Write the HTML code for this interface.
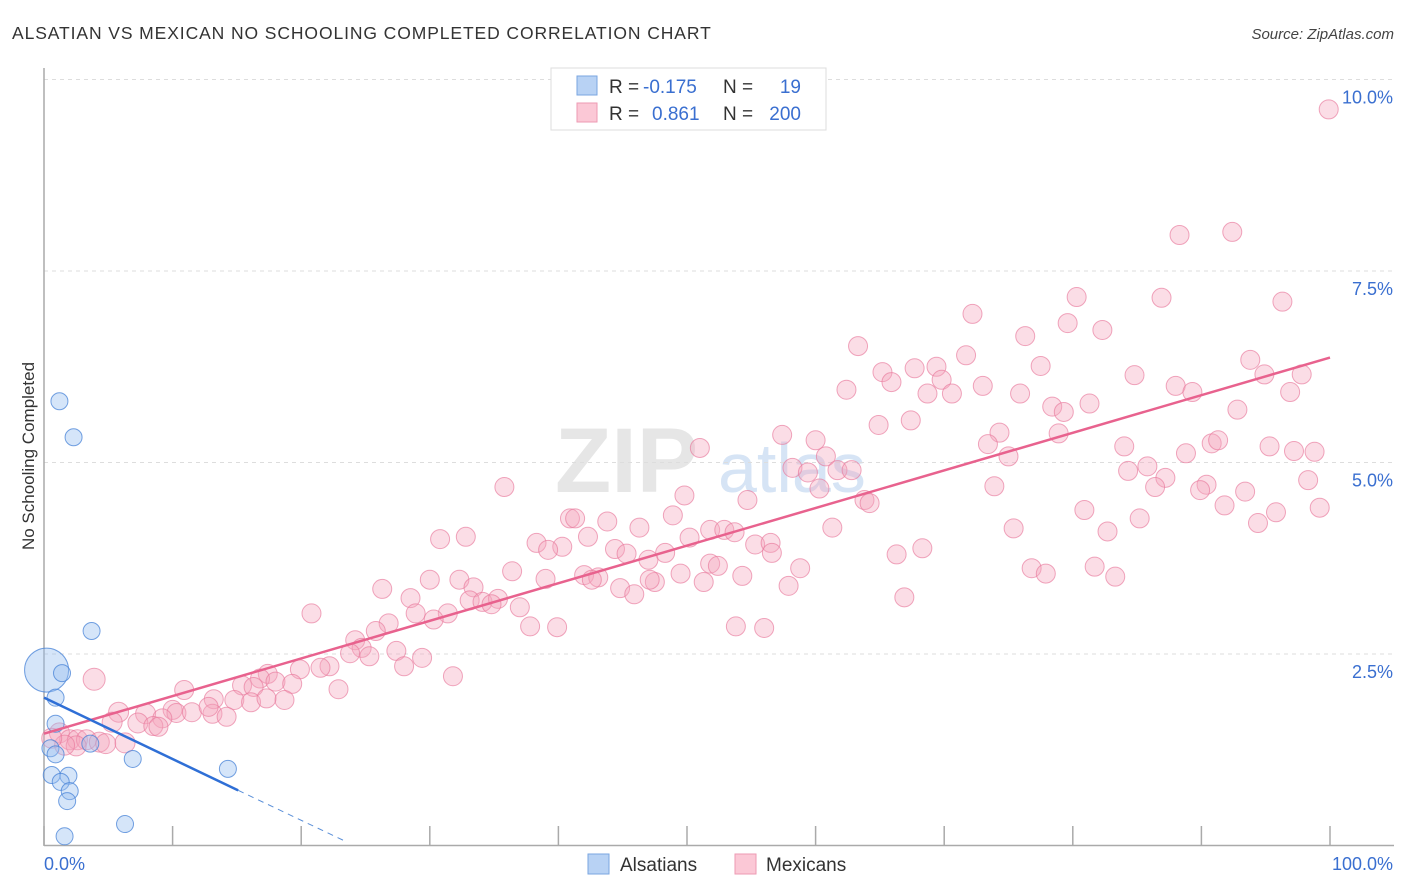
<!DOCTYPE html>
<html><head><meta charset="utf-8"><style>
body{margin:0;background:#fff;font-family:"Liberation Sans",sans-serif;}
#wrap{position:relative;width:1406px;height:892px;overflow:hidden;}
svg text{font-family:"Liberation Sans",sans-serif;}
</style></head><body>
<div id="wrap">
<svg id="chart" width="1406" height="892" xmlns="http://www.w3.org/2000/svg">
<text x="12" y="39" font-size="17.5" fill="#333" letter-spacing="0.9">ALSATIAN VS MEXICAN NO SCHOOLING COMPLETED CORRELATION CHART</text>
<text x="1394" y="39" font-size="15" fill="#444" font-style="italic" text-anchor="end">Source: ZipAtlas.com</text>
<text x="0" y="0" transform="translate(34,456) rotate(-90)" font-size="17" fill="#333" text-anchor="middle">No Schooling Completed</text>
<g><text x="555" y="492" font-size="92" font-family="Liberation Serif" fill="#e6e6e6" font-weight="bold">ZIP</text><text x="718" y="492" font-size="70" fill="#d6e4f5">atlas</text></g>
<g id="grid"></g><g id="axes"></g><g id="marks"></g>
<g>
<rect x="551" y="68" width="275" height="62" fill="#fff" stroke="#ddd"/>
<rect x="577" y="76" width="20" height="19" fill="#b8d2f4" stroke="#7aa6e0"/>
<rect x="577" y="103" width="20" height="19" fill="#fbc8d6" stroke="#ee9ab3"/>
<text x="609" y="93" font-size="19" fill="#333">R =</text><text x="643" y="93" font-size="19" fill="#3a6fd0">-0.175</text>
<text x="723" y="93" font-size="19" fill="#333">N =</text><text x="801" y="93" font-size="19" fill="#3a6fd0" text-anchor="end">19</text>
<text x="609" y="120" font-size="19" fill="#333">R =</text><text x="652" y="120" font-size="19" fill="#3a6fd0">0.861</text>
<text x="723" y="120" font-size="19" fill="#333">N =</text><text x="801" y="120" font-size="19" fill="#3a6fd0" text-anchor="end">200</text>
</g>
<g>
<rect x="588" y="854" width="21" height="20" fill="#b8d2f4" stroke="#7aa6e0"/>
<text x="620" y="871" font-size="19" fill="#333">Alsatians</text>
<rect x="735" y="854" width="21" height="20" fill="#fbc8d6" stroke="#ee9ab3"/>
<text x="766" y="871" font-size="19" fill="#333">Mexicans</text>
</g>
</svg>
</div>
<script>
const yTicks=[2.5,5.0,7.5,10.0];
const yTickLabels=["2.5%","5.0%","7.5%","10.0%"];
const xTickVals=[0,10,20,30,40,50,60,70,80,90,100];
const xEndLabels=["0.0%","100.0%"];
const mexX=[99.9,88.3,92.4,80.3,86.9,96.3,72.2,79.6,82.3,76.3,63.3,71.7,69.4,67.7,93.8,77.5,65.2,94.9,97.8,84.8,65.9,69.8,73,88,89.3,62.4,68.7,70.6,75.9,96.9,78.4,81.3,79.3,92.8,67.4,64.9,57.4,74.3,78.9,60,51,73.4,84,90.8,91.3,95.3,98.8,97.2,88.8,75,60.8,58.2,61.7,59.4,62.8,85.8,84.3,87.2,98.3,60.3,73.9,86.4,90.4,89.9,35.8,49.8,54.7,63.8,64.2,93.4,91.8,99.2,80.9,95.8,85.2,40.9,41.3,43.8,48.9,61.3,46.3,75.4,94.4,82.7,51.8,52.9,53.7,30.8,32.8,50.2,42.3,38.3,40.3,39.2,55.3,56.5,44.4,45.3,48.3,51.8,56.6,68.3,66.3,47,42,36.4,76.8,77.9,81.7,83.3,58.8,52.4,54.3,49.5,43.1,42.6,39,30,32.3,47.5,47.1,51.3,26.3,33.4,44.8,45.9,57.9,66.9,28.5,33.1,34.1,35.3,34.8,37,20.8,28.9,31.4,30.3,37.8,39.9,53.8,56,26.8,25.8,24.2,24.7,23.8,25.3,27.4,29.4,22.2,21.5,28,19.9,17.4,31.8,16.8,18,19.3,15.4,22.9,10.9,16.3,13.2,14.8,16.1,18.7,17.3,10,10.3,11.5,13.1,12.8,5.8,7.9,14.2,9.2,5.3,7.3,8.5,8.9,3.9,1.2,2,2.6,3.3,4.3,4.8,2.5,1.6,6.3,0.6];
const mexY=[9.61,7.97,8.01,7.16,7.15,7.10,6.94,6.82,6.73,6.65,6.52,6.40,6.25,6.23,6.34,6.26,6.18,6.15,6.15,6.14,6.05,6.08,6.0,6.0,5.92,5.95,5.90,5.90,5.90,5.92,5.73,5.77,5.66,5.69,5.55,5.49,5.36,5.39,5.38,5.29,5.19,5.24,5.21,5.25,5.29,5.21,5.14,5.15,5.12,5.08,5.08,4.93,4.90,4.87,4.90,4.95,4.89,4.80,4.77,4.66,4.69,4.68,4.71,4.64,4.68,4.57,4.51,4.51,4.47,4.62,4.44,4.41,4.38,4.35,4.27,4.27,4.27,4.23,4.31,4.15,4.15,4.14,4.21,4.10,4.12,4.12,4.09,4.0,4.03,4.02,4.03,3.95,3.90,3.86,3.93,3.95,3.87,3.81,3.82,3.68,3.82,3.88,3.80,3.73,3.53,3.58,3.62,3.55,3.64,3.51,3.62,3.65,3.52,3.55,3.50,3.47,3.48,3.47,3.47,3.44,3.47,3.44,3.35,3.37,3.36,3.28,3.39,3.24,3.23,3.20,3.18,3.22,3.15,3.11,3.03,3.03,3.03,2.95,2.86,2.85,2.86,2.84,2.90,2.80,2.68,2.58,2.51,2.47,2.54,2.45,2.34,2.32,2.34,2.30,2.24,2.21,2.18,2.14,2.11,2.09,2.04,2.03,2.07,1.91,1.90,1.87,1.90,1.92,1.77,1.73,1.74,1.72,1.81,1.74,1.72,1.68,1.66,1.61,1.60,1.56,1.55,2.17,1.47,1.38,1.38,1.38,1.35,1.33,1.30,1.31,1.34,1.40];
const alsX=[1.2,2.3,3.7,0.2,1.4,0.9,0.9,0.5,0.9,3.6,6.9,14.3,0.6,1.9,1.3,2,1.8,6.3,1.6];
const alsY=[5.80,5.33,2.80,2.29,2.25,1.93,1.59,1.27,1.19,1.33,1.13,1.0,0.92,0.91,0.83,0.71,0.58,0.28,0.12];
const mexTrend=[1.46,6.37];
const alsTrend=[1.93,0.72,0.05];
const alsTrendX=[0,15.1,23.5];
const NS="http://www.w3.org/2000/svg";
const X0=44,X1=1330,Y0=845.5,YS=76.6;
function sx(v){return X0+(X1-X0)*v/100;}
function sy(v){return Y0-v*YS;}
function mk(t,a,p){const e=document.createElementNS(NS,t);for(const k in a)e.setAttribute(k,a[k]);p.appendChild(e);return e;}
const grid=document.getElementById('grid'),axes=document.getElementById('axes'),marks=document.getElementById('marks');
yTicks.forEach((v,i)=>{
 const l=mk('line',{x1:44,x2:1394,y1:sy(v),y2:sy(v),stroke:'#ddd','stroke-dasharray':'4,4'},grid);
 
 
 const t=mk('text',{x:1393,y:sy(v)+24,'font-size':18,fill:'#3a6fd0','text-anchor':'end'},grid);
 t.textContent=yTickLabels[i];
 
 
});
const ya=mk('line',{x1:44,x2:44,y1:68,y2:846,stroke:'#aaa','stroke-width':1.5},axes);


const xa=mk('line',{x1:44,x2:1394,y1:845.5,y2:845.5,stroke:'#aaa','stroke-width':1.5},axes);


xTickVals.forEach(v=>{const t=mk('line',{x1:sx(v),x2:sx(v),y1:826,y2:845,stroke:'#aaa','stroke-width':1.5},axes);
 
 });
const xl0=mk('text',{x:44,y:870,'font-size':18,fill:'#3a6fd0'},axes);xl0.textContent=xEndLabels[0];


const xl1=mk('text',{x:1393,y:870,'font-size':18,fill:'#3a6fd0','text-anchor':'end'},axes);xl1.textContent=xEndLabels[1];


mexX.forEach((x,i)=>{const r=(i==mexX.length-11)?11:(x<8?10:9.5);
 const c=mk('circle',{cx:sx(x),cy:sy(mexY[i]),r:r,fill:'rgba(245,165,190,0.38)',stroke:'rgba(232,120,155,0.65)','stroke-width':1},marks);
 
 });
alsX.forEach((x,i)=>{const r=(i==3)?22:8.5;
 const c=mk('circle',{cx:sx(x),cy:sy(alsY[i]),r:r,fill:'rgba(150,190,240,0.4)',stroke:'rgba(70,130,215,0.75)','stroke-width':1},marks);
 
 });
const mt=mk('line',{x1:sx(0),y1:sy(mexTrend[0]),x2:sx(100),y2:sy(mexTrend[1]),stroke:'#e8628e','stroke-width':2.5},marks);


const at=mk('line',{x1:sx(alsTrendX[0]),y1:sy(alsTrend[0]),x2:sx(alsTrendX[1]),y2:sy(alsTrend[1]),stroke:'#2f6fd6','stroke-width':2.5},marks);


const ad=mk('line',{x1:sx(alsTrendX[1]),y1:sy(alsTrend[1]),x2:sx(alsTrendX[2]),y2:sy(alsTrend[2]),stroke:'#5a8fd8','stroke-width':1,'stroke-dasharray':'6,5'},marks);


</script>
</body></html>
